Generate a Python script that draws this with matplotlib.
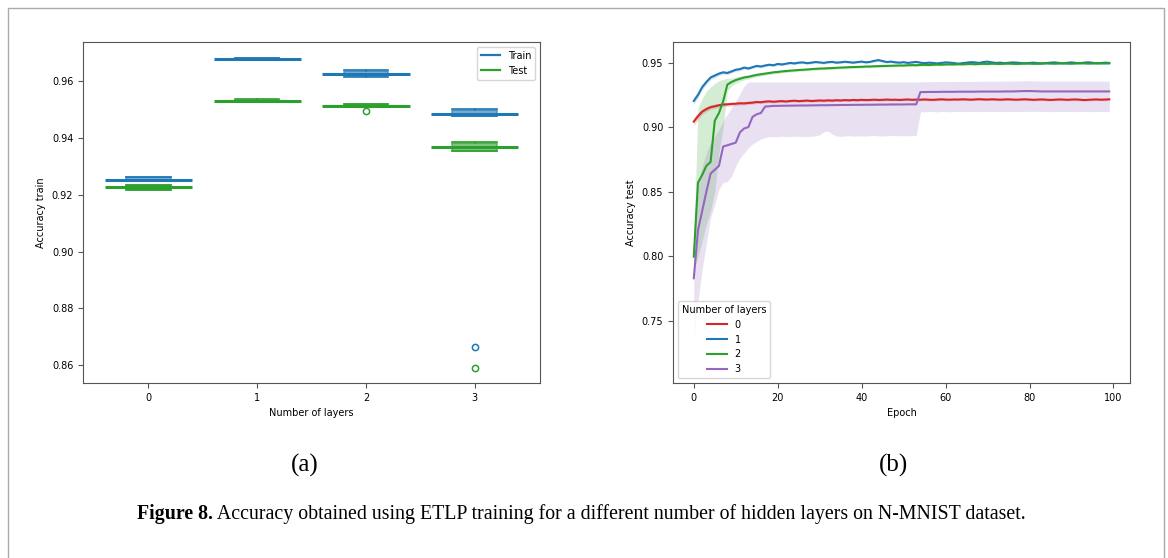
import matplotlib.pyplot as plt
import numpy as np
from matplotlib.lines import Line2D
from matplotlib.patches import Rectangle

# (a) final accuracy of each run, per number of hidden layers
layers = [0, 1, 2, 3]
train_runs = [
    [0.9248, 0.9249, 0.9253, 0.9262, 0.9263],
    [0.9673, 0.9674, 0.9678, 0.9681, 0.9682],
    [0.9616, 0.9617, 0.9627, 0.9637, 0.9638],
    [0.8665, 0.9477, 0.9485, 0.9500, 0.9501],
]
test_runs = [
    [0.9217, 0.9218, 0.9226, 0.9235, 0.9236],
    [0.9527, 0.9528, 0.9532, 0.9535, 0.9536],
    [0.9494, 0.9510, 0.9511, 0.9519, 0.9520],
    [0.8590, 0.9354, 0.9370, 0.9384, 0.9386],
]

# (b) mean test accuracy per epoch and its confidence band
epochs = list(range(100))

acc_0 = [0.9043, 0.9085, 0.9120, 0.9140, 0.9155, 0.9162, 0.9170, 0.9175, 0.9177, 0.9180,
         0.9182, 0.9185, 0.9184, 0.9188, 0.9190, 0.9195, 0.9193, 0.9198, 0.9200, 0.9197,
         0.9200, 0.9202, 0.9199, 0.9203, 0.9205, 0.9202, 0.9204, 0.9206, 0.9203, 0.9205,
         0.9207, 0.9205, 0.9208, 0.9206, 0.9209, 0.9207, 0.9210, 0.9208, 0.9211, 0.9209,
         0.9212, 0.9210, 0.9211, 0.9213, 0.9211, 0.9212, 0.9214, 0.9212, 0.9213, 0.9211,
         0.9213, 0.9215, 0.9212, 0.9214, 0.9213, 0.9215, 0.9213, 0.9212, 0.9214, 0.9216,
         0.9214, 0.9213, 0.9215, 0.9214, 0.9216, 0.9215, 0.9213, 0.9215, 0.9217, 0.9215,
         0.9214, 0.9216, 0.9215, 0.9213, 0.9215, 0.9216, 0.9214, 0.9213, 0.9215, 0.9216,
         0.9214, 0.9212, 0.9214, 0.9215, 0.9213, 0.9211, 0.9213, 0.9215, 0.9214, 0.9212,
         0.9214, 0.9215, 0.9213, 0.9210, 0.9212, 0.9214, 0.9215, 0.9213, 0.9214, 0.9216]
acc_1 = [0.9203, 0.9250, 0.9310, 0.9350, 0.9385, 0.9400, 0.9415, 0.9425, 0.9420, 0.9432,
         0.9445, 0.9450, 0.9462, 0.9455, 0.9465, 0.9475, 0.9470, 0.9478, 0.9484, 0.9480,
         0.9490, 0.9486, 0.9492, 0.9498, 0.9494, 0.9500, 0.9502, 0.9496, 0.9500, 0.9505,
         0.9502, 0.9498, 0.9504, 0.9506, 0.9500, 0.9503, 0.9507, 0.9504, 0.9500, 0.9505,
         0.9508, 0.9503, 0.9506, 0.9514, 0.9520, 0.9512, 0.9505, 0.9508, 0.9503, 0.9500,
         0.9504, 0.9498, 0.9502, 0.9506, 0.9500, 0.9496, 0.9500, 0.9498, 0.9494, 0.9498,
         0.9502, 0.9500, 0.9497, 0.9492, 0.9496, 0.9500, 0.9504, 0.9502, 0.9498, 0.9505,
         0.9508, 0.9502, 0.9498, 0.9500, 0.9496, 0.9499, 0.9502, 0.9500, 0.9497, 0.9495,
         0.9498, 0.9500, 0.9496, 0.9494, 0.9497, 0.9500, 0.9502, 0.9498, 0.9495, 0.9499,
         0.9502, 0.9498, 0.9496, 0.9500, 0.9503, 0.9499, 0.9495, 0.9497, 0.9500, 0.9498]
acc_2 = [0.7996, 0.8570, 0.8630, 0.8700, 0.8730, 0.9050, 0.9110, 0.9200, 0.9330, 0.9350,
         0.9365, 0.9375, 0.9385, 0.9390, 0.9398, 0.9405, 0.9410, 0.9415, 0.9420, 0.9425,
         0.9428, 0.9432, 0.9435, 0.9438, 0.9440, 0.9443, 0.9445, 0.9447, 0.9450, 0.9452,
         0.9454, 0.9455, 0.9457, 0.9458, 0.9460, 0.9462, 0.9463, 0.9465, 0.9466, 0.9467,
         0.9468, 0.9470, 0.9470, 0.9472, 0.9473, 0.9474, 0.9475, 0.9476, 0.9477, 0.9478,
         0.9478, 0.9480, 0.9481, 0.9480, 0.9482, 0.9483, 0.9482, 0.9484, 0.9485, 0.9484,
         0.9486, 0.9487, 0.9486, 0.9488, 0.9487, 0.9489, 0.9490, 0.9488, 0.9490, 0.9491,
         0.9490, 0.9492, 0.9491, 0.9490, 0.9492, 0.9493, 0.9491, 0.9490, 0.9492, 0.9494,
         0.9493, 0.9491, 0.9492, 0.9494, 0.9495, 0.9493, 0.9492, 0.9494, 0.9495, 0.9493,
         0.9492, 0.9494, 0.9496, 0.9495, 0.9493, 0.9494, 0.9496, 0.9495, 0.9494, 0.9495]
acc_3 = [0.7829, 0.8200, 0.8350, 0.8500, 0.8640, 0.8670, 0.8700, 0.8850, 0.8860, 0.8870,
         0.8880, 0.8960, 0.8990, 0.9000, 0.9080, 0.9100, 0.9110, 0.9160, 0.9162, 0.9165,
         0.9165, 0.9166, 0.9166, 0.9167, 0.9167, 0.9168, 0.9168, 0.9168, 0.9169, 0.9169,
         0.9170, 0.9170, 0.9170, 0.9171, 0.9171, 0.9172, 0.9172, 0.9172, 0.9173, 0.9173,
         0.9173, 0.9174, 0.9174, 0.9174, 0.9175, 0.9175, 0.9175, 0.9176, 0.9176, 0.9176,
         0.9176, 0.9177, 0.9177, 0.9177, 0.9272, 0.9272, 0.9273, 0.9273, 0.9273, 0.9274,
         0.9274, 0.9274, 0.9274, 0.9275, 0.9275, 0.9275, 0.9275, 0.9275, 0.9276, 0.9276,
         0.9276, 0.9276, 0.9276, 0.9276, 0.9277, 0.9277, 0.9277, 0.9278, 0.9279, 0.9280,
         0.9280, 0.9279, 0.9278, 0.9277, 0.9277, 0.9277, 0.9277, 0.9277, 0.9277, 0.9277,
         0.9277, 0.9277, 0.9277, 0.9277, 0.9277, 0.9277, 0.9277, 0.9277, 0.9277, 0.9277]

# half-width of the band (layers 0 and 1)
hw_0 = [0.0030, 0.0026, 0.0022, 0.0020, 0.0018, 0.0017, 0.0016, 0.0015, 0.0014, 0.0014,
        0.0013, 0.0013, 0.0012, 0.0012, 0.0012, 0.0011, 0.0011, 0.0011, 0.0011, 0.0010,
        0.0010, 0.0010, 0.0010, 0.0010, 0.0010, 0.0010, 0.0010, 0.0010, 0.0010, 0.0010,
        0.0010, 0.0010, 0.0009, 0.0009, 0.0009, 0.0009, 0.0009, 0.0009, 0.0009, 0.0009,
        0.0009, 0.0009, 0.0009, 0.0009, 0.0009, 0.0009, 0.0009, 0.0009, 0.0009, 0.0009,
        0.0009, 0.0009, 0.0009, 0.0009, 0.0009, 0.0009, 0.0009, 0.0009, 0.0009, 0.0009,
        0.0008, 0.0008, 0.0008, 0.0008, 0.0008, 0.0008, 0.0008, 0.0008, 0.0008, 0.0008,
        0.0008, 0.0008, 0.0008, 0.0008, 0.0008, 0.0008, 0.0008, 0.0008, 0.0008, 0.0008,
        0.0008, 0.0008, 0.0008, 0.0008, 0.0008, 0.0008, 0.0008, 0.0008, 0.0008, 0.0008,
        0.0008, 0.0008, 0.0008, 0.0008, 0.0008, 0.0008, 0.0008, 0.0008, 0.0008, 0.0008]
hw_1 = [0.0025, 0.0022, 0.0020, 0.0018, 0.0016, 0.0015, 0.0014, 0.0013, 0.0013, 0.0012,
        0.0012, 0.0011, 0.0011, 0.0011, 0.0010, 0.0010, 0.0010, 0.0010, 0.0010, 0.0010,
        0.0010, 0.0010, 0.0009, 0.0009, 0.0009, 0.0009, 0.0009, 0.0009, 0.0009, 0.0009,
        0.0009, 0.0009, 0.0009, 0.0009, 0.0009, 0.0009, 0.0009, 0.0009, 0.0009, 0.0009,
        0.0009, 0.0009, 0.0009, 0.0009, 0.0010, 0.0010, 0.0009, 0.0009, 0.0009, 0.0009,
        0.0008, 0.0008, 0.0008, 0.0008, 0.0008, 0.0008, 0.0008, 0.0008, 0.0008, 0.0008,
        0.0008, 0.0008, 0.0008, 0.0008, 0.0008, 0.0008, 0.0008, 0.0008, 0.0008, 0.0008,
        0.0008, 0.0008, 0.0008, 0.0008, 0.0008, 0.0008, 0.0008, 0.0008, 0.0008, 0.0008,
        0.0008, 0.0008, 0.0008, 0.0008, 0.0008, 0.0008, 0.0008, 0.0008, 0.0008, 0.0008,
        0.0008, 0.0008, 0.0008, 0.0008, 0.0008, 0.0008, 0.0008, 0.0008, 0.0008, 0.0008]

# distance from the mean to the lower / upper band edge (layers 2 and 3)
lo_2 = [0.0100, 0.0570, 0.0510, 0.0450, 0.0380, 0.0550, 0.0310, 0.0200, 0.0050, 0.0030,
        0.0025, 0.0020, 0.0018, 0.0016, 0.0015, 0.0014, 0.0013, 0.0013, 0.0012, 0.0012,
        0.0012, 0.0011, 0.0011, 0.0011, 0.0011, 0.0010, 0.0010, 0.0010, 0.0010, 0.0010,
        0.0010, 0.0010, 0.0010, 0.0010, 0.0010, 0.0010, 0.0010, 0.0010, 0.0010, 0.0010,
        0.0009, 0.0009, 0.0009, 0.0009, 0.0009, 0.0009, 0.0009, 0.0009, 0.0009, 0.0009,
        0.0009, 0.0009, 0.0009, 0.0009, 0.0009, 0.0009, 0.0009, 0.0009, 0.0009, 0.0009,
        0.0008, 0.0008, 0.0008, 0.0008, 0.0008, 0.0008, 0.0008, 0.0008, 0.0008, 0.0008,
        0.0008, 0.0008, 0.0008, 0.0008, 0.0008, 0.0008, 0.0008, 0.0008, 0.0008, 0.0008,
        0.0008, 0.0008, 0.0008, 0.0008, 0.0008, 0.0008, 0.0008, 0.0008, 0.0008, 0.0008,
        0.0008, 0.0008, 0.0008, 0.0008, 0.0008, 0.0008, 0.0008, 0.0008, 0.0008, 0.0008]
hi_2 = [0.0100, 0.0580, 0.0590, 0.0580, 0.0580, 0.0290, 0.0250, 0.0170, 0.0050, 0.0030,
        0.0025, 0.0020, 0.0018, 0.0016, 0.0015, 0.0014, 0.0013, 0.0013, 0.0012, 0.0012,
        0.0012, 0.0011, 0.0011, 0.0011, 0.0011, 0.0010, 0.0010, 0.0010, 0.0010, 0.0010,
        0.0010, 0.0010, 0.0010, 0.0010, 0.0010, 0.0010, 0.0010, 0.0010, 0.0010, 0.0010,
        0.0009, 0.0009, 0.0009, 0.0009, 0.0009, 0.0009, 0.0009, 0.0009, 0.0009, 0.0009,
        0.0009, 0.0009, 0.0009, 0.0009, 0.0009, 0.0009, 0.0009, 0.0009, 0.0009, 0.0009,
        0.0008, 0.0008, 0.0008, 0.0008, 0.0008, 0.0008, 0.0008, 0.0008, 0.0008, 0.0008,
        0.0008, 0.0008, 0.0008, 0.0008, 0.0008, 0.0008, 0.0008, 0.0008, 0.0008, 0.0008,
        0.0008, 0.0008, 0.0008, 0.0008, 0.0008, 0.0008, 0.0008, 0.0008, 0.0008, 0.0008,
        0.0008, 0.0008, 0.0008, 0.0008, 0.0008, 0.0008, 0.0008, 0.0008, 0.0008, 0.0008]
lo_3 = [0.0480, 0.0550, 0.0450, 0.0400, 0.0340, 0.0270, 0.0180, 0.0280, 0.0280, 0.0250,
        0.0180, 0.0200, 0.0190, 0.0160, 0.0210, 0.0210, 0.0200, 0.0240, 0.0235, 0.0238,
        0.0240, 0.0236, 0.0238, 0.0240, 0.0237, 0.0239, 0.0241, 0.0238, 0.0240, 0.0236,
        0.0230, 0.0205, 0.0200, 0.0225, 0.0240, 0.0243, 0.0240, 0.0238, 0.0242, 0.0240,
        0.0241, 0.0243, 0.0240, 0.0238, 0.0242, 0.0244, 0.0241, 0.0240, 0.0243, 0.0241,
        0.0242, 0.0244, 0.0241, 0.0242, 0.0152, 0.0153, 0.0151, 0.0153, 0.0154, 0.0152,
        0.0153, 0.0155, 0.0153, 0.0152, 0.0154, 0.0155, 0.0153, 0.0154, 0.0156, 0.0154,
        0.0155, 0.0153, 0.0155, 0.0156, 0.0155, 0.0157, 0.0155, 0.0156, 0.0158, 0.0158,
        0.0157, 0.0156, 0.0155, 0.0156, 0.0155, 0.0157, 0.0156, 0.0155, 0.0157, 0.0156,
        0.0155, 0.0157, 0.0156, 0.0155, 0.0156, 0.0157, 0.0155, 0.0156, 0.0157, 0.0156]
hi_3 = [0.0320, 0.0350, 0.0350, 0.0300, 0.0240, 0.0260, 0.0280, 0.0200, 0.0240, 0.0280,
        0.0320, 0.0300, 0.0330, 0.0350, 0.0270, 0.0250, 0.0240, 0.0190, 0.0188, 0.0185,
        0.0185, 0.0184, 0.0184, 0.0183, 0.0183, 0.0182, 0.0182, 0.0182, 0.0181, 0.0181,
        0.0180, 0.0180, 0.0180, 0.0179, 0.0179, 0.0178, 0.0178, 0.0178, 0.0177, 0.0177,
        0.0177, 0.0176, 0.0176, 0.0176, 0.0175, 0.0175, 0.0175, 0.0174, 0.0174, 0.0174,
        0.0174, 0.0173, 0.0173, 0.0173, 0.0080, 0.0080, 0.0080, 0.0080, 0.0080, 0.0080,
        0.0080, 0.0080, 0.0080, 0.0080, 0.0080, 0.0080, 0.0080, 0.0080, 0.0080, 0.0080,
        0.0080, 0.0080, 0.0080, 0.0080, 0.0080, 0.0080, 0.0080, 0.0080, 0.0080, 0.0080,
        0.0080, 0.0080, 0.0080, 0.0080, 0.0080, 0.0080, 0.0080, 0.0080, 0.0080, 0.0080,
        0.0080, 0.0080, 0.0080, 0.0080, 0.0080, 0.0080, 0.0080, 0.0080, 0.0080, 0.0080]

blue = '#1f77b4'
green = '#2ca02c'
red = '#d62728'
purple = '#9467bd'
spine = '#555555'

fig = plt.figure(figsize=(11.68, 5.58), dpi=100)
ax1 = fig.add_axes([0.0711, 0.3136, 0.3913, 0.6111])
ax2 = fig.add_axes([0.5762, 0.3136, 0.3913, 0.6111])


def box(ax, runs, c):
    ax.boxplot(runs, positions=layers, widths=0.41, capwidths=0.41, patch_artist=True,
               manage_ticks=False,
               boxprops=dict(facecolor=c, edgecolor=c, linewidth=1.2, alpha=0.6),
               medianprops=dict(color=c, linewidth=1.2),
               whiskerprops=dict(color=c, linewidth=1.2),
               capprops=dict(color=c, linewidth=1.2),
               flierprops=dict(marker='o', markerfacecolor='none', markeredgecolor=c,
                               markersize=4.5, markeredgewidth=1.1))
    # median drawn across the full slot width
    ax.hlines([np.median(r) for r in runs], [p - 0.4 for p in layers],
              [p + 0.4 for p in layers], color=c, lw=2.2)


box(ax1, train_runs, blue)
box(ax1, test_runs, green)
ax1.set_xlim(-0.6, 3.6)
ax1.set_ylim(0.8537, 0.9738)
ax1.set_xticks(layers)
ax1.set_yticks([0.86, 0.88, 0.90, 0.92, 0.94, 0.96])
ax1.set_xlabel("Number of layers", fontsize=7)
ax1.set_ylabel("Accuracy train", fontsize=7)
ax1.legend([Line2D([], [], color=blue, lw=1.6), Line2D([], [], color=green, lw=1.6)],
           ["Train", "Test"], loc='upper right', fontsize=7)

for acc, lo, hi, c, name in [(acc_0, hw_0, hw_0, red, "0"), (acc_1, hw_1, hw_1, blue, "1"),
                             (acc_2, lo_2, hi_2, green, "2"), (acc_3, lo_3, hi_3, purple, "3")]:
    m = np.array(acc)
    ax2.fill_between(epochs, m - np.array(lo), m + np.array(hi), color=c, alpha=0.2, lw=0)
    ax2.plot(epochs, m, color=c, lw=1.5, label=name)

ax2.set_xlim(-4.95, 103.95)
ax2.set_ylim(0.7017, 0.966)
ax2.set_xticks([0, 20, 40, 60, 80, 100])
ax2.set_yticks([0.75, 0.80, 0.85, 0.90, 0.95])
ax2.set_xlabel("Epoch", fontsize=7)
ax2.set_ylabel("Accuracy test", fontsize=7)
ax2.legend(title="Number of layers", loc='lower left', fontsize=7, title_fontsize=7)

for ax in (ax1, ax2):
    ax.tick_params(labelsize=7, color=spine)
    for s in ax.spines.values():
        s.set_color(spine)

fig.text(0.261, 0.165, "(a)", fontsize=18, family='Liberation Serif', ha='center', va='center')
fig.text(0.7646, 0.165, "(b)", fontsize=18, family='Liberation Serif', ha='center', va='center')
t1 = fig.text(0.117, 0.079, "Figure 8.", fontsize=14.3, fontweight='bold',
              family='Liberation Serif', va='center')
ax1.annotate(" Accuracy obtained using ETLP training for a different number of hidden layers on N-MNIST dataset.",
             xy=(1, 0.5), xycoords=t1, va='center', ha='left', fontsize=14.3,
             family='Liberation Serif')

fig.add_artist(Rectangle((8 / 1168, -0.05), 1156 / 1168, 1.05 - 8 / 558, transform=fig.transFigure,
                         fill=False, edgecolor='#aaaaaa', lw=1, clip_on=False))

plt.savefig("out.png")
